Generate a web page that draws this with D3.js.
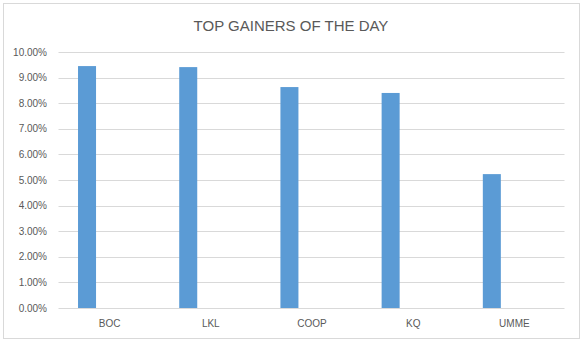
<!DOCTYPE html>
<html>
<head>
<meta charset="utf-8">
<script src="https://cdnjs.cloudflare.com/ajax/libs/d3/7.8.5/d3.min.js"></script>
<style>
  body { margin: 0; background: #fff; }
  text { font-family: "Liberation Sans", Arial, sans-serif; fill: #595959; }
</style>
</head>
<body>
<div class="canva"></div>
<script>
const categories = ["BOC", "LKL", "COOP", "KQ", "UMME"];
const gains = [0.0945, 0.0941, 0.0863, 0.0840, 0.0523];
const yTicks = [0, 0.01, 0.02, 0.03, 0.04, 0.05, 0.06, 0.07, 0.08, 0.09, 0.10];
const title = "TOP GAINERS OF THE DAY";

const data = categories.map((c, i) => ({ name: c, value: gains[i] }));

const svg = d3.select(".canva").append("svg")
            .attr("width", 584)
            .attr("height", 342);

// chart border
svg.append("rect")
    .attr("x", 3.5).attr("y", 3.5)
    .attr("width", 576).attr("height", 335)
    .attr("fill", "#fff")
    .attr("stroke", "#d9d9d9");

svg.append("text")
    .attr("x", 291).attr("y", 31)
    .attr("text-anchor", "middle")
    .attr("font-size", "15px")
    .text(title);

const x = d3.scaleBand()
        .domain(categories)
        .range([59, 565]);

const y = d3.scaleLinear()
        .domain([0, 0.10])
        .range([308, 52]);

// gridlines
svg.append("g")
    .selectAll("line")
    .data(yTicks)
    .enter().append("line")
    .attr("x1", 58.5).attr("x2", 564.5)
    .attr("y1", d => Math.round(y(d)) + 0.5)
    .attr("y2", d => Math.round(y(d)) + 0.5)
    .attr("stroke", "#d9d9d9");

// y tick labels
svg.append("g")
    .selectAll("text")
    .data(yTicks)
    .enter().append("text")
    .attr("x", 47)
    .attr("y", d => y(d) + 3.5)
    .attr("text-anchor", "end")
    .attr("font-size", "10px")
    .text(d3.format(".2%"));

// bars (sit left of the category centre, like the excel cluster)
svg.append("g")
    .selectAll("rect")
    .data(data)
    .enter().append("rect")
    .attr("x", d => x(d.name) + x.bandwidth() * 0.188)
    .attr("width", x.bandwidth() * 0.178)
    .attr("y", d => y(d.value))
    .attr("height", d => y(0) - y(d.value))
    .attr("fill", "#5b9bd5");

// category labels
svg.append("g")
    .selectAll("text")
    .data(categories)
    .enter().append("text")
    .attr("x", d => x(d) + x.bandwidth() / 2)
    .attr("y", y(0) + 19)
    .attr("text-anchor", "middle")
    .attr("font-size", "10px")
    .text(d => d);
</script>
</body>
</html>
